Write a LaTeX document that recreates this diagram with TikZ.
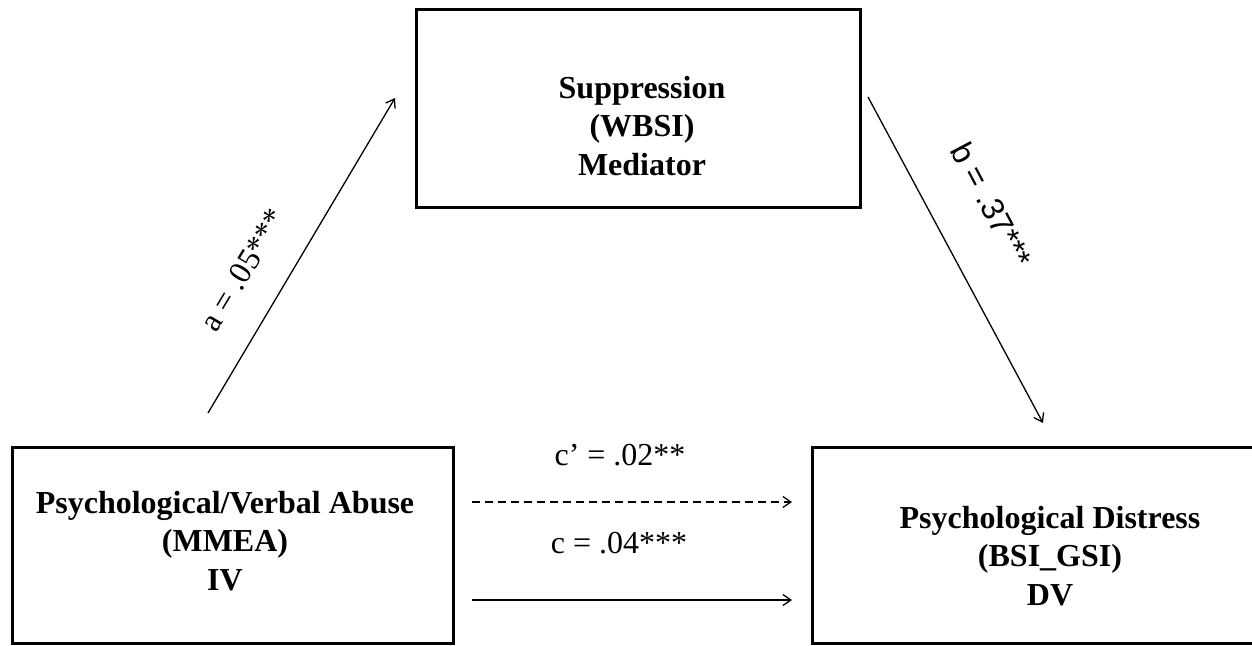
\documentclass[tikz,border=0pt]{standalone}
\usepackage{fontspec}
\setmainfont{Liberation Serif}
\newfontfamily\labelsans{Liberation Sans}
\usetikzlibrary{arrows.meta}

\begin{document}
\begin{tikzpicture}[x=1pt,y=-1pt,
  varbox/.style={draw, line width=3pt, inner sep=0pt},
  vartext/.style={align=center, anchor=base, inner sep=0pt,
    font=\bfseries\fontsize{32}{38.5}\selectfont},
  coef/.style={inner sep=0pt, font=\fontsize{32}{38}\selectfont},
  path/.style={line width=1.3pt, -{Straight Barb[length=8pt,width=11pt,line width=1.3pt]}},
  dashpath/.style={path, dash pattern=on 8pt off 5pt}]
\useasboundingbox (0,0) rectangle (1252,645);

% variable boxes
\node[varbox, minimum width=441pt, minimum height=196pt] (iv)  at (232.5,545) {};
\node[varbox, minimum width=444pt, minimum height=198pt] (med) at (638,108) {};
\node[varbox, minimum width=478pt, minimum height=196pt] (dv)  at (1051,545) {};

% box captions (anchored at the baseline of the last line)
\node[vartext] (ivtext)  at (225,590)  {Psychological/Verbal Abuse\\(MMEA)\\IV};
\node[vartext] (medtext) at (642,175)  {Suppression\\(WBSI)\\Mediator};
\node[vartext] (dvtext)  at (1050,605) {Psychological Distress\\(BSI\_GSI)\\DV};

% path end points
\coordinate (a0) at (208,413);
\coordinate (a1) at (395,98);
\coordinate (b0) at (868,97);
\coordinate (b1) at (1043,423);
\coordinate (cp0) at (472,502);
\coordinate (cp1) at (792,502);
\coordinate (c0) at (472,600);
\coordinate (c1) at (792,600);

% paths
\draw[path] (a0) -- (a1);
\draw[path] (b0) -- (b1);
\draw[dashpath] (cp0) -- (cp1);
\draw[path] (c0) -- (c1);

% coefficients
\node[coef, rotate=59] (alabel) at (243,270) {a = .05***};
\node[coef, rotate=-62, font=\labelsans\fontsize{32}{38}\selectfont] (blabel) at (992,205) {b = .37***};
\node[coef, anchor=base] (cplabel) at (620,465) {c’ = .02**};
\node[coef, anchor=base] (clabel) at (619,553) {c = .04***};
\end{tikzpicture}
\end{document}
